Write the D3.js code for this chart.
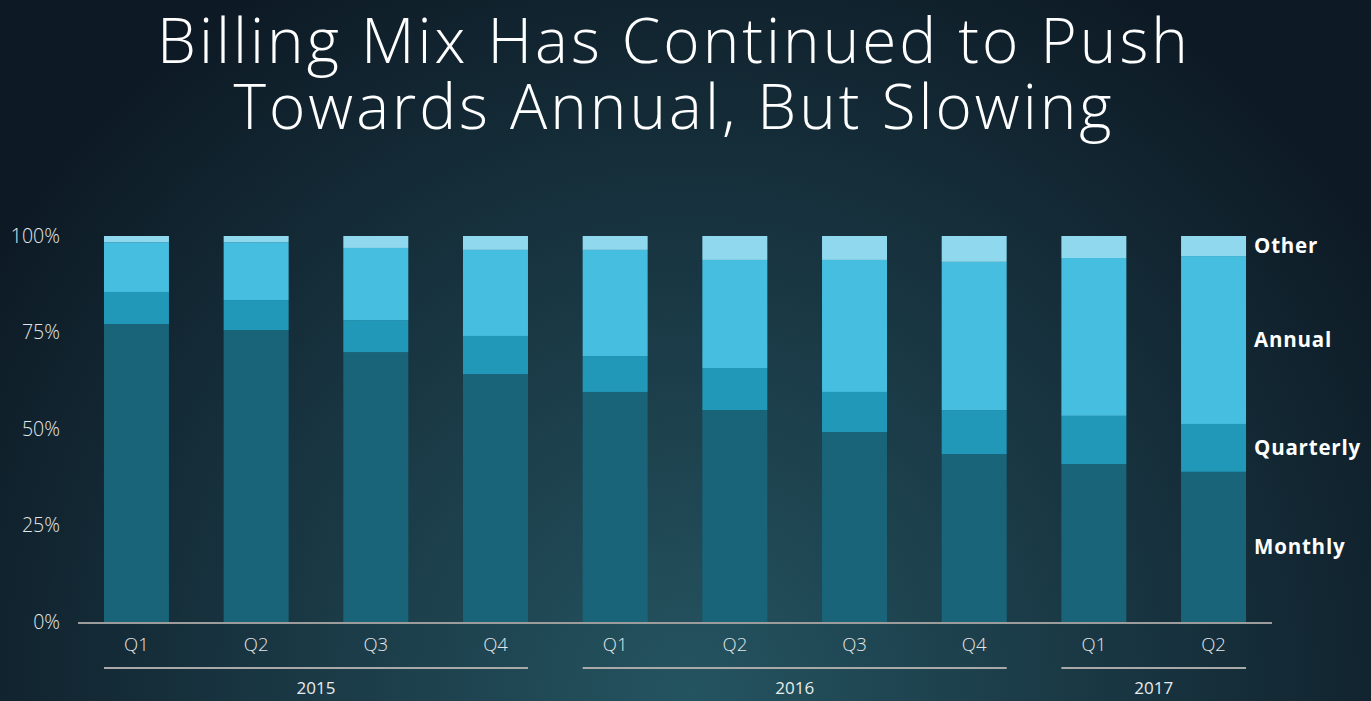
<!DOCTYPE html>
<html>
<head>
<meta charset="utf-8">
<script src="https://cdn.jsdelivr.net/npm/d3@7"></script>
<style>
  body { margin: 0; background: #0e1b26; }
  svg { display: block; }
</style>
</head>
<body>
<div id="chart"></div>
<script>
// Datos (porcentaje de facturación por tipo)
const quarters = ['Q1', 'Q2', 'Q3', 'Q4', 'Q1', 'Q2', 'Q3', 'Q4', 'Q1', 'Q2'];
const years = ['2015', '2015', '2015', '2015', '2016', '2016', '2016', '2016', '2017', '2017'];
const monthly = [77.2, 75.6, 69.9, 64.2, 59.6, 54.9, 49.2, 43.5, 40.9, 38.9];
const quarterly = [8.3, 7.8, 8.3, 9.9, 9.3, 10.9, 10.4, 11.4, 12.5, 12.4];
const annual = [12.9, 15.0, 18.7, 22.3, 27.5, 28.0, 34.2, 38.4, 40.9, 43.5];
const other = [1.6, 1.6, 3.1, 3.6, 3.6, 6.2, 6.2, 6.7, 5.7, 5.2];
const seriesNames = ['Monthly', 'Quarterly', 'Annual', 'Other'];
const yTicks = [0, 25, 50, 75, 100];

const colors = { Monthly: '#1a647a', Quarterly: '#2298b9', Annual: '#46bedf', Other: '#8fd8ee' };

const W = 1371, H = 701;
const svg = d3.select('#chart').append('svg').attr('width', W).attr('height', H);

// Fondo
const defs = svg.append('defs');
const grad = defs.append('radialGradient')
    .attr('id', 'bg').attr('gradientUnits', 'userSpaceOnUse')
    .attr('cx', 690).attr('cy', 690).attr('r', 820);
grad.append('stop').attr('offset', '0%').attr('stop-color', '#245460');
grad.append('stop').attr('offset', '45%').attr('stop-color', '#1a3a46');
grad.append('stop').attr('offset', '100%').attr('stop-color', '#0d1a25');
svg.append('rect').attr('width', W).attr('height', H).attr('fill', 'url(#bg)');

// Título
const title = svg.append('text')
    .attr('x', 674).attr('text-anchor', 'middle')
    .attr('fill', '#ffffff')
    .style('font-family', '"Open Sans", sans-serif')
    .style('font-weight', 300)
    .style('font-size', '62px')
    .style('letter-spacing', '3px');
title.append('tspan').attr('x', 674).attr('y', 63).text('Billing Mix Has Continued to Push');
title.append('tspan').attr('x', 674).attr('y', 129).text('Towards Annual, But Slowing');

// Datos para apilar
let rows = quarters.map((q, i) => ({
    idx: i, Monthly: monthly[i], Quarterly: quarterly[i], Annual: annual[i], Other: other[i]
}));
let stacked = d3.stack().keys(seriesNames)(rows);

// Escalas
let x = d3.scaleBand()
    .domain(d3.range(quarters.length))
    .range([78, 1272])
    .paddingInner(0.457)
    .paddingOuter(0.217);

let y = d3.scaleLinear()
    .domain([0, 100])
    .range([622, 236]);

// Eje Y
let yAxis = function(g) {
    g.call(d3.axisLeft(y).tickValues(yTicks).tickSize(0).tickPadding(18).tickFormat(d => d + '%'));
    g.call(function(g) { g.select('.domain').remove(); });
    g.selectAll('text')
        .attr('fill', '#e4e7e9')
        .style('font-family', '"Open Sans", sans-serif')
        .style('font-weight', 300)
        .style('font-size', '19.5px');
};
svg.append('g').attr('transform', 'translate(78,0)').call(yAxis);

// Barras
svg.append('g').selectAll('g')
    .data(stacked)
    .enter()
    .append('g')
    .attr('fill', d => colors[d.key])
    .selectAll('rect')
    .data(d => d)
    .enter()
    .append('rect')
    .attr('x', d => x(d.data.idx))
    .attr('width', x.bandwidth())
    .attr('y', d => y(d[1]))
    .attr('height', d => y(d[0]) - y(d[1]));

// Línea base
svg.append('line')
    .attr('x1', 78).attr('x2', 1272)
    .attr('y1', y(0) + 1).attr('y2', y(0) + 1)
    .attr('stroke', '#9c9c9c').attr('stroke-width', 2);

// Eje X: trimestres
let xAxis = function(g) {
    g.call(d3.axisBottom(x).tickSize(0).tickPadding(16).tickFormat(i => quarters[i]));
    g.call(function(g) { g.select('.domain').remove(); });
    g.selectAll('text')
        .attr('fill', '#e4e7e9')
        .style('font-family', '"Open Sans", sans-serif')
        .style('font-weight', 300)
        .style('font-size', '18.5px');
};
svg.append('g').attr('transform', 'translate(0,' + y(0) + ')').call(xAxis);

// Agrupación por año
let yearGroups = d3.groups(quarters.map((q, i) => ({ i: i, year: years[i] })), d => d.year);
yearGroups.forEach(function(g) {
    let first = g[1][0].i, last = g[1][g[1].length - 1].i;
    let x1 = x(first), x2 = x(last) + x.bandwidth();
    svg.append('line')
        .attr('x1', x1).attr('x2', x2)
        .attr('y1', 668).attr('y2', 668)
        .attr('stroke', '#a9a9a9').attr('stroke-width', 2);
    svg.append('text')
        .attr('x', (x1 + x2) / 2).attr('y', 694)
        .attr('text-anchor', 'middle')
        .attr('fill', '#e8ebed')
        .style('font-family', '"Open Sans", sans-serif')
        .style('font-weight', 400)
        .style('font-size', '17px')
        .text(g[0]);
});

// Etiquetas de serie junto a la última barra
let lastIdx = quarters.length - 1;
svg.append('g').selectAll('text')
    .data(stacked)
    .enter()
    .append('text')
    .attr('x', x(lastIdx) + x.bandwidth() + 8)
    .attr('y', d => (y(d[lastIdx][0]) + y(d[lastIdx][1])) / 2)
    .attr('dy', '0.35em')
    .attr('fill', '#ffffff')
    .style('font-family', '"Open Sans", sans-serif')
    .style('font-weight', 700)
    .style('font-size', '20.5px')
    .style('letter-spacing', '0.8px')
    .text(d => d.key);
</script>
</body>
</html>
